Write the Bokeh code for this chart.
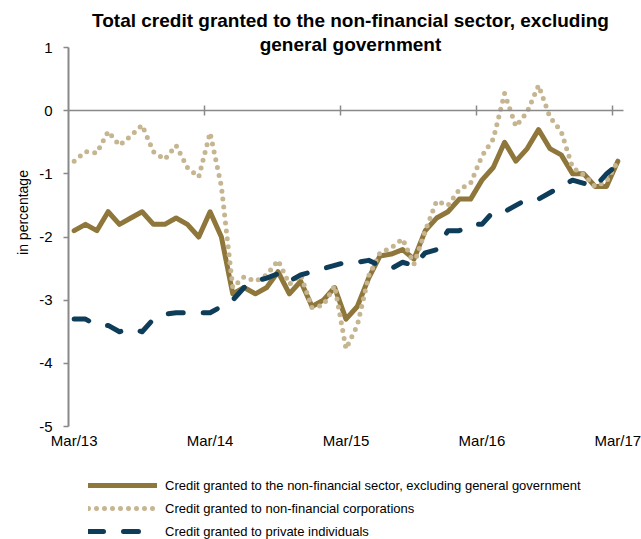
import numpy as np
from bokeh.plotting import figure
from bokeh.models import Label, Legend, LegendItem, FixedTicker, ColumnDataSource, LinearAxis
from bokeh.embed import file_html
from bokeh.resources import INLINE

# ---------------- data ----------------
MONTH_NAMES = ["Jan", "Feb", "Mar", "Apr", "May", "Jun", "Jul", "Aug", "Sep", "Oct", "Nov", "Dec"]
CATEGORIES = [f"{MONTH_NAMES[(2 + i) % 12]}/{13 + (2 + i) // 12}" for i in range(49)]  # Mar/13 .. Mar/17

TOTAL = [-1.9, -1.8, -1.9, -1.6, -1.8, -1.7, -1.6, -1.8, -1.8, -1.7, -1.8, -2.0,
         -1.6, -2.0, -2.9, -2.8, -2.9, -2.8, -2.55, -2.9, -2.7, -3.1, -3.0, -2.8,
         -3.3, -3.1, -2.65, -2.3, -2.27, -2.2, -2.35, -1.9, -1.7, -1.6, -1.4, -1.4,
         -1.1, -0.9, -0.5, -0.8, -0.6, -0.3, -0.6, -0.7, -1.0, -1.0, -1.2, -1.2,
         -0.8]
CORPORATIONS = [-0.8, -0.65, -0.67, -0.33, -0.55, -0.4, -0.23, -0.65, -0.77, -0.55, -0.9, -1.05,
                -0.35, -1.2, -2.8, -2.63, -2.7, -2.6, -2.37, -2.75, -2.6, -3.12, -3.08, -2.77,
                -3.77, -3.4, -2.62, -2.25, -2.17, -2.03, -2.43, -1.9, -1.43, -1.5, -1.25, -1.15,
                -0.72, -0.45, 0.27, -0.25, -0.02, 0.4, -0.1, -0.33, -0.9, -1.02, -1.2, -1.12,
                -0.8]
INDIVIDUALS = [-3.3, -3.3, -3.4, -3.4, -3.5, -3.45, -3.5, -3.3, -3.22, -3.2, -3.2, -3.2,
               -3.2, -3.1, -3.0, -2.8, -2.7, -2.65, -2.58, -2.7, -2.6, -2.55, -2.5, -2.45,
               -2.4, -2.4, -2.37, -2.45, -2.5, -2.4, -2.45, -2.25, -2.2, -1.9, -1.9, -1.8,
               -1.8, -1.6, -1.6, -1.5, -1.4, -1.4, -1.3, -1.2, -1.1, -1.15, -1.2, -1.0,
               -0.85]

X_TICKS = [0, 12, 24, 36, 48]
X_TICK_LABELS = ["Mar/13", "Mar/14", "Mar/15", "Mar/16", "Mar/17"]
Y_TICKS = [1, 0, -1, -2, -3, -4, -5]
Y_TICK_LABELS = ["1", "0", "-1", "-2", "-3", "-4", "-5"]
YEAR_BOUNDARIES = [11.5, 23.5, 35.5, 47.5]

SERIES_NAMES = ["Credit granted to the non-financial sector, excluding general government",
                "Credit granted to non-financial corporations",
                "Credit granted to private individuals"]
TITLE_LINES = ["Total credit granted to the non-financial sector, excluding",
               "general government"]
Y_LABEL = "in percentage"

# ---------------- layout (pixels) ----------------
W, H = 641, 539
PLOT_L, PLOT_R = 68.0, 623.0      # pixel x of category edges -0.5 and 48.5
PLOT_T, PLOT_B = 47.0, 426.0      # pixel y of values 1 and -5
X_LO, X_HI = -0.5, 48.5
Y_HI, Y_LO = 1.0, -5.0
PX_PER_X = (PLOT_R - PLOT_L) / (X_HI - X_LO)
PX_PER_Y = (PLOT_B - PLOT_T) / (Y_HI - Y_LO)
XR = (X_LO - PLOT_L / PX_PER_X, X_HI + (W - PLOT_R) / PX_PER_X)
YR = (Y_LO - (H - PLOT_B) / PX_PER_Y, Y_HI + PLOT_T / PX_PER_Y)


def px_x(px):
    return XR[0] + px / PX_PER_X


def px_y(py):
    return YR[1] - py / PX_PER_Y


# ---------------- style ----------------
FONT = "Liberation Sans"
C_TOTAL = "#8F763A"
C_CORP = "#C6B591"
C_IND = "#0E3D5A"
AXIS_GREY = "#898989"

src = ColumnDataSource(dict(x=list(range(len(CATEGORIES))), cat=CATEGORIES,
                            total=TOTAL, corp=CORPORATIONS, ind=INDIVIDUALS))

p = figure(width=W, height=H, x_range=XR, y_range=YR,
           output_backend="svg", toolbar_location=None, title=None,
           min_border=0, min_border_left=0, min_border_right=0,
           min_border_top=0, min_border_bottom=0)
p.grid.visible = False
p.outline_line_color = None
p.background_fill_color = "white"
p.border_fill_color = "white"

# x axis: labels only, sitting under the value -5
xa = p.xaxis[0]
xa.fixed_location = Y_LO
xa.ticker = FixedTicker(ticks=X_TICKS)
xa.major_label_overrides = {t: lab for t, lab in zip(X_TICKS, X_TICK_LABELS)}
xa.axis_line_color = None
xa.major_tick_line_color = None
xa.minor_tick_line_color = None
xa.major_tick_out = 0
xa.major_tick_in = 0
xa.major_label_standoff = 5
xa.major_label_text_font = FONT
xa.major_label_text_font_size = "15px"
xa.major_label_text_color = "#000000"

# y axis
ya = p.yaxis[0]
ya.fixed_location = X_LO
ya.bounds = (Y_LO, Y_HI)
ya.ticker = FixedTicker(ticks=Y_TICKS)
ya.major_label_overrides = {t: lab for t, lab in zip(Y_TICKS, Y_TICK_LABELS)}
ya.axis_line_color = AXIS_GREY
ya.axis_line_width = 2
ya.major_tick_line_color = AXIS_GREY
ya.major_tick_line_width = 1.5
ya.major_tick_in = 0
ya.major_tick_out = 5
ya.minor_tick_line_color = None
ya.major_label_standoff = 11
ya.major_label_text_font = FONT
ya.major_label_text_font_size = "15px"
ya.major_label_text_color = "#000000"

# zero line with year-boundary tick marks
za = LinearAxis(fixed_location=0, bounds=(X_LO, X_HI), ticker=FixedTicker(ticks=YEAR_BOUNDARIES),
                axis_line_color=AXIS_GREY, axis_line_width=1.5,
                major_tick_line_color=AXIS_GREY, major_tick_line_width=1.5,
                major_tick_in=5, major_tick_out=5, minor_tick_line_color=None,
                major_label_text_alpha=0, major_label_text_font_size="1px")
p.add_layout(za, "below")

r_total = p.line("x", "total", source=src, line_color=C_TOTAL, line_width=5,
                 line_join="round", line_cap="round")
r_corp = p.line("x", "corp", source=src, line_color=C_CORP, line_width=5,
                line_dash="0 8", line_cap="round", line_join="round")
r_ind = p.line("x", "ind", source=src, line_color=C_IND, line_width=5,
               line_dash="15 20", line_cap="round", line_join="round")

legend = Legend(items=[LegendItem(label=SERIES_NAMES[0], renderers=[r_total]),
                       LegendItem(label=SERIES_NAMES[1], renderers=[r_corp]),
                       LegendItem(label=SERIES_NAMES[2], renderers=[r_ind])],
                location=(88, -2), orientation="vertical",
                glyph_width=69, glyph_height=20, label_height=20, spacing=3,
                padding=0, margin=0, label_standoff=8,
                border_line_color=None, background_fill_alpha=0,
                label_text_font=FONT, label_text_font_size="13px",
                label_text_color="#000000")
p.add_layout(legend)

for txt, py in zip(TITLE_LINES, [20, 44]):
    p.add_layout(Label(x=px_x(350), y=px_y(py), text=txt, text_align="center", text_baseline="middle",
                       text_font=FONT, text_font_style="bold", text_font_size="19px",
                       text_color="#000000"))

p.add_layout(Label(x=px_x(22), y=px_y(212), text=Y_LABEL, angle=np.pi / 2, text_align="center",
                   text_baseline="middle", text_font=FONT, text_font_size="14px",
                   text_color="#000000"))

open("out.html", "w").write(file_html(p, INLINE))
